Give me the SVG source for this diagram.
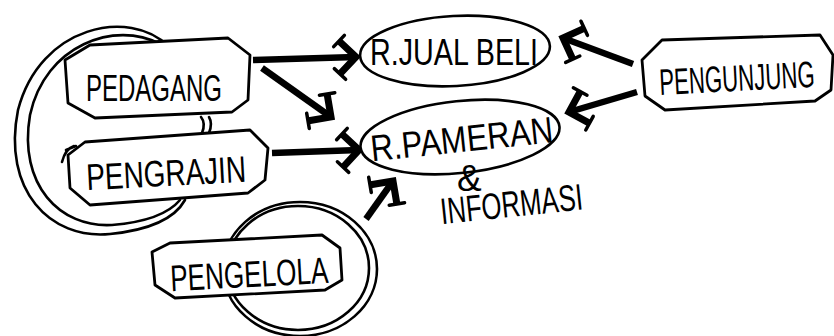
<svg xmlns="http://www.w3.org/2000/svg" width="834" height="336" viewBox="0 0 834 336">
<defs>
<style>
.ln{fill:none;stroke:#000;stroke-width:2.6;stroke-linecap:round;stroke-linejoin:round}
.box{fill:#fff;stroke:#000;stroke-width:2.8;stroke-linejoin:round}
.ell{fill:#fff;stroke:#000;stroke-width:2.6}
.arr{fill:none;stroke:#000;stroke-width:6.5;stroke-linecap:butt}
.t{font-family:"Liberation Sans","DejaVu Sans",sans-serif;fill:#000;font-size:37px}
</style>
<marker id="ah" viewBox="-26 -26 32 52" refX="0" refY="0" markerWidth="32" markerHeight="52" orient="auto" markerUnits="userSpaceOnUse">
<path d="M-16,-16 L0,0 L-16,16" fill="none" stroke="#000" stroke-width="7" stroke-linecap="butt" stroke-linejoin="miter"/>
<path d="M-22,-11 L-11,-22 M-22,11 L-11,22" fill="none" stroke="#000" stroke-width="3.5" stroke-linecap="round"/>
</marker>
</defs>

<g id="loops">
<path class="ln" d="M168,46 C130,8 40,25 18,110 C2,190 50,240 110,234 C150,230 175,218 185,200"/>
<path class="ln" d="M160,44 C115,20 45,45 30,115 C18,185 60,228 112,225 C148,222 170,212 180,200"/>
<path class="ln" d="M62,162 C64,154 68,148 74,146 M66,150 L76,146"/>
<path class="ln" d="M201,117 C205,122 204,128 202,133 M209,117 C212,122 211,128 209,133"/>
<ellipse class="ln" cx="300" cy="269" rx="77" ry="67"/>
<ellipse class="ln" cx="298" cy="268" rx="71" ry="62"/>
</g>

<g id="connectors">
<line class="arr" x1="253" y1="60" x2="356" y2="57" marker-end="url(#ah)"/>
<line class="arr" x1="262" y1="68" x2="331" y2="117" marker-end="url(#ah)"/>
<line class="arr" x1="272" y1="153" x2="359" y2="150" marker-end="url(#ah)"/>
<line class="arr" x1="366" y1="219" x2="393" y2="181" marker-end="url(#ah)"/>
<line class="arr" x1="633" y1="64" x2="563" y2="38" marker-end="url(#ah)"/>
<line class="arr" x1="637" y1="92" x2="569" y2="112" marker-end="url(#ah)"/>
</g>

<g id="pedagang">
<polygon class="box" points="90,45 228,38 250,55 248,100 232,112 95,118 68,103 65,60"/>
<text class="t" x="86" y="101" textLength="136" lengthAdjust="spacingAndGlyphs">PEDAGANG</text>
</g>

<g id="pengrajin">
<polygon class="box" points="85,142 250,130 268,148 265,180 248,193 90,205 70,188 68,155"/>
<text class="t" x="86" y="186" textLength="160" lengthAdjust="spacingAndGlyphs" transform="rotate(-3 165 170)">PENGRAJIN</text>
</g>

<g id="pengelola">
<polygon class="box" points="170,243 322,235 340,248 342,280 325,290 175,298 155,285 152,252"/>
<text class="t" x="170" y="287" textLength="158" lengthAdjust="spacingAndGlyphs" font-size="34" transform="rotate(-3 250 270)">PENGELOLA</text>
</g>

<g id="jualbeli">
<ellipse class="ell" cx="455" cy="51" rx="95" ry="35" transform="rotate(-3 455 51)"/>
<text class="t" x="370" y="65" textLength="168" lengthAdjust="spacingAndGlyphs" font-size="36">R.JUAL BELI</text>
</g>

<g id="pameran">
<ellipse class="ell" cx="460" cy="137" rx="100" ry="36" transform="rotate(-6 460 137)"/>
<text class="t" x="370" y="152" textLength="183" lengthAdjust="spacingAndGlyphs" transform="rotate(-6 460 137)">R.PAMERAN</text>
<text class="t" x="457" y="191" font-size="34">&amp;</text>
<text class="t" x="440" y="217" textLength="143" lengthAdjust="spacingAndGlyphs" font-size="30" transform="rotate(-6 510 205)">INFORMASI</text>
</g>

<g id="pengunjung">
<polygon class="box" points="662,40 820,35 833,55 831,90 815,101 665,110 645,96 642,60"/>
<text class="t" x="0" y="0" font-size="33" transform="translate(660 95) rotate(-3) scale(0.6 1)">PENGUNJUNG</text>
</g>
</svg>
